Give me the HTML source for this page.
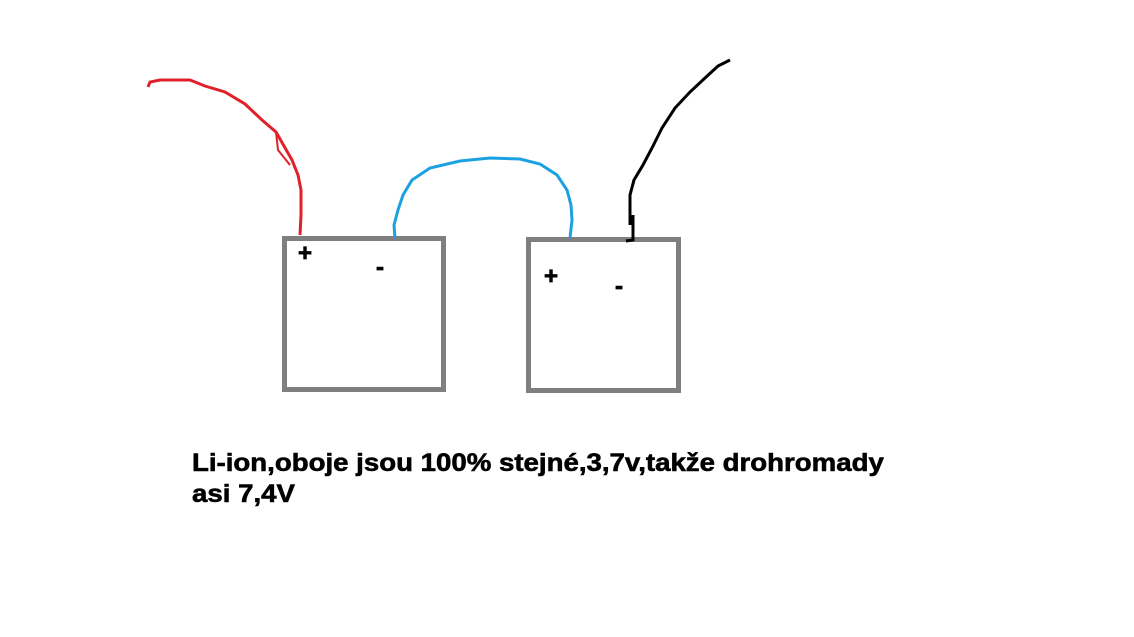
<!DOCTYPE html>
<html><head><style>
body{margin:0;width:1134px;height:637px;background:#fff;position:relative;overflow:hidden}
.t{position:absolute;left:192px;font-family:"Liberation Sans",sans-serif;font-weight:bold;font-size:25px;color:#000;white-space:nowrap;line-height:1;transform:scaleX(1.105);transform-origin:0 0;-webkit-text-stroke:0.6px #000}
</style></head><body>
<svg width="1134" height="637" style="position:absolute;left:0;top:0">
<rect x="284.5" y="238.5" width="159" height="151" fill="none" stroke="#7f7f7f" stroke-width="5"/>
<rect x="528.5" y="239.5" width="150" height="151" fill="none" stroke="#7f7f7f" stroke-width="5"/>
<path d="M148,87 L150,82 L160,80 L190,80 L205,86 L225,92 L245,104 L262,120 L276,132 L284,146 L292,160 L298,175 L301,190 L301,215 L300,235" fill="none" stroke="#e0202a" stroke-width="3"/>
<path d="M276,132 L278,150 L290,165" fill="none" stroke="#e0202a" stroke-width="2"/>
<path d="M395,238 L394,225 L398,210 L403,195 L412,180 L430,168 L460,161 L490,158 L520,159 L540,164 L557,175 L567,190 L571,205 L572,220 L570,238" fill="none" stroke="#1ba1e2" stroke-width="3"/>
<path d="M730,60 L718,66 L705,78 L690,92 L675,108 L662,128 L652,148 L643,165 L634,180 L630,195 L630,225 M633,215 L633,240 L626,241" fill="none" stroke="#000" stroke-width="3"/>
<text x="298" y="261" font-family="Liberation Sans" font-weight="bold" font-size="24" stroke="#000" stroke-width="0.8">+</text>
<text x="376" y="275" font-family="Liberation Sans" font-weight="bold" font-size="24" stroke="#000" stroke-width="0.8">-</text>
<text x="544" y="284" font-family="Liberation Sans" font-weight="bold" font-size="24" stroke="#000" stroke-width="0.8">+</text>
<text x="615" y="294" font-family="Liberation Sans" font-weight="bold" font-size="24" stroke="#000" stroke-width="0.8">-</text>
</svg>
<div class="t" style="top:451px">Li-ion,oboje jsou 100% stejné,3,7v,takže drohromady</div>
<div class="t" style="top:482px">asi 7,4V</div>
</body></html>
